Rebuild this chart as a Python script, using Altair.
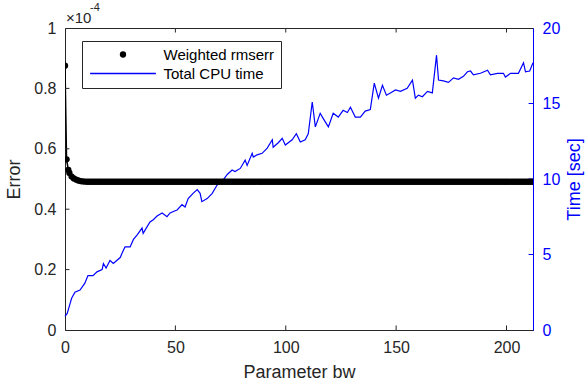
import altair as alt
import pandas as pd

# ---- data ----
series_names = ["Weighted rmserr", "Total CPU time"]

# error (in units of 1e-4)
err_x_start = [0, 0.7, 1.5, 2, 3, 4, 5, 6, 7, 8, 9]
err_y_start = [0.875, 0.565, 0.53, 0.52, 0.508, 0.502, 0.498, 0.495, 0.493, 0.492, 0.4915]
err_x_flat = list(range(10, 213))
err_y_flat = [0.491] * len(err_x_flat)

# total CPU time [sec]
time_x = [0, 1, 2, 3, 4.5, 6.8, 9, 10.4, 12.7, 14.5, 16.8, 17.4, 18.6, 20.4, 21.9, 25,
          26.5, 27.2, 29.5, 31, 32.7, 34.9, 35.4, 38.5, 40, 41.7, 44, 46.2, 47.6, 49.9,
          50.8, 53, 54.4, 55.8, 58, 59.9, 61.2, 62, 64.4, 66.7, 68.9, 71.7, 73.5, 75.7,
          77, 79.4, 81.6, 82.5, 84.8, 85.3, 87, 89.3, 91.6, 93.9, 94.3, 96.6, 98.4, 99.8,
          102.9, 104.8, 106.6, 108.8, 110.2, 112, 113.4, 115.6, 117, 119.3, 121.5, 123.8,
          126, 127.9, 129.3, 131.5, 133.8, 136, 138.3, 140.1, 142, 143.8, 145.6, 147.4,
          149.7, 152, 155, 157.4, 158.7, 160.1, 161.9, 164.2, 166.4, 168.3, 169.2, 171.4,
          173.7, 176, 178.2, 180.5, 182.3, 183.7, 185, 188.2, 191.4, 192.7, 195.9, 198.6,
          199.5, 201.8, 204, 205.4, 207.7, 208.6, 210.5, 212]
time_y = [0.9, 1.1, 1.6, 2.1, 2.5, 2.65, 3.1, 3.6, 3.6, 3.85, 4.0, 4.4, 4.1, 4.6, 4.4, 4.8,
          5.3, 5.5, 5.5, 6.0, 6.3, 6.75, 6.4, 7.15, 7.3, 7.55, 7.75, 7.5, 7.75, 7.9,
          7.95, 8.3, 8.15, 8.7, 9.05, 9.3, 9.05, 8.5, 8.7, 9.05, 9.6, 9.95, 10.3, 10.6,
          10.5, 10.7, 11.25, 10.9, 11.7, 11.45, 11.6, 11.7, 12.05, 12.6, 12.1, 12.4, 12.7, 12.25,
          12.6, 13.0, 12.45, 12.6, 13.0, 15.1, 13.45, 14.35, 14.0, 13.45, 14.35, 14.1,
          14.55, 14.4, 14.75, 14.1, 14.1, 14.5, 14.6, 16.35, 15.35, 16.2, 15.55, 15.7,
          15.9, 15.8, 16.0, 16.55, 15.35, 15.55, 15.45, 15.8, 15.7, 18.2, 16.55, 16.5,
          16.4, 16.7, 16.6, 16.8, 17.1, 17.15, 16.9, 17.0, 17.2, 16.9, 17.0, 17.0,
          16.75, 17.0, 17.0, 17.0, 17.7, 17.1, 17.15, 17.7]

x_ticks = [0, 50, 100, 150, 200]
err_ticks = [0, 0.2, 0.4, 0.6, 0.8, 1]
time_ticks = [0, 5, 10, 15, 20]

# ---- tables ----
err_df = pd.DataFrame({"bw": err_x_start + err_x_flat,
                       "err": err_y_start + err_y_flat,
                       "series": series_names[0]})
time_df = pd.DataFrame({"bw": time_x, "time": time_y})
xt_df = pd.DataFrame({"bw": x_ticks[1:], "lo": 0.0, "hi": 0.015, "top": 1.0, "top2": 0.985})
yt_df = pd.DataFrame({"err": err_ticks[1:-1], "x0": 0.0, "x1": 2.0})
tt_df = pd.DataFrame({"time": time_ticks[1:-1], "x0": 212.0, "x1": 210.0})
exp_df = pd.DataFrame({"bw": [0], "err": [1]})

FONT = "Liberation Sans"
DARK = "#262626"
BLUE = "#0000ff"
XMAX = 212

xscale = alt.Scale(domain=[0, XMAX], nice=False, zero=False)
escale = alt.Scale(domain=[0, 1], nice=False, zero=False)
tscale = alt.Scale(domain=[0, 20], nice=False, zero=False)

xaxis = alt.Axis(values=x_ticks, ticks=False, labelPadding=9, title="Parameter bw",
                 titlePadding=8, domainColor=DARK, labelColor=DARK, titleColor=DARK,
                 labelFontSize=16, titleFontSize=18, labelFont=FONT, titleFont=FONT,
                 titleFontWeight="normal", grid=False, labelFlush=False)
eaxis = alt.Axis(values=err_ticks, ticks=False, labelPadding=9, title="Error", orient="left",
                 format="~g", titlePadding=10, domainColor=DARK, labelColor=DARK,
                 titleColor=DARK, labelFontSize=16, titleFontSize=18, labelFont=FONT,
                 titleFont=FONT, titleFontWeight="normal", grid=False, labelFlush=False)
taxis = alt.Axis(values=time_ticks, ticks=False, labelPadding=9, title="Time [sec]",
                 orient="right", titleAngle=270, titlePadding=24, domainColor=BLUE,
                 labelColor=BLUE, titleColor=BLUE, labelFontSize=16, titleFontSize=18,
                 labelFont=FONT, titleFont=FONT, titleFontWeight="normal", grid=False,
                 labelFlush=False)

legend = alt.Legend(orient="none", legendX=17, legendY=13, title=None, padding=6,
                    rowPadding=3, strokeColor=DARK, fillColor="white", cornerRadius=0,
                    symbolOffset=27.5, labelOffset=33, labelFontSize=15, labelFont=FONT,
                    labelColor="black", symbolSize=40, symbolOpacity=1, labelLimit=300)

line_path = "M-10.4,-0.2H10.4V0.2H-10.4Z"

X = alt.X("bw:Q", scale=xscale, axis=xaxis)
YE = alt.Y("err:Q", scale=escale, axis=eaxis)
YT = alt.Y("time:Q", scale=tscale, axis=taxis)

err_line = alt.Chart(err_df).mark_line(color="black", strokeWidth=1.5, clip=True).encode(
    x=X, y=YE)
err_pts = alt.Chart(err_df).mark_point(filled=True, size=40, opacity=1, clip=True).encode(
    x=X, y=YE,
    color=alt.Color("series:N", scale=alt.Scale(domain=series_names, range=["black", BLUE]),
                    legend=legend),
    shape=alt.Shape("series:N", scale=alt.Scale(domain=series_names,
                                                range=["circle", line_path]),
                    legend=legend),
)
xt_bot = alt.Chart(xt_df).mark_rule(color=DARK, strokeWidth=1).encode(
    x=X, y=alt.Y("lo:Q", scale=escale, axis=eaxis), y2="hi:Q")
xt_top = alt.Chart(xt_df).mark_rule(color=DARK, strokeWidth=1).encode(
    x=X, y=alt.Y("top:Q", scale=escale, axis=eaxis), y2="top2:Q")
yt_left = alt.Chart(yt_df).mark_rule(color=DARK, strokeWidth=1).encode(
    y=YE, x=alt.X("x0:Q", scale=xscale, axis=xaxis), x2="x1:Q")
exp_base = alt.Chart(exp_df).mark_text(text="×10", align="left", baseline="middle",
                                       dx=1, dy=-10, fontSize=15, font=FONT,
                                       color=DARK).encode(x=X, y=YE)
exp_sup = alt.Chart(exp_df).mark_text(text="-4", align="left", baseline="middle",
                                      dx=25, dy=-20, fontSize=11, font=FONT,
                                      color=DARK).encode(x=X, y=YE)

left = alt.layer(err_line, err_pts, xt_bot, xt_top, yt_left, exp_base, exp_sup)

time_line = alt.Chart(time_df).mark_line(color=BLUE, strokeWidth=1.2).encode(x=X, y=YT)
tt_right = alt.Chart(tt_df).mark_rule(color=BLUE, strokeWidth=1).encode(
    y=YT, x=alt.X("x0:Q", scale=xscale, axis=xaxis), x2="x1:Q")
right = alt.layer(time_line, tt_right)

chart = alt.layer(right, left).resolve_scale(y="independent").properties(
    width=468, height=302,
    autosize=alt.AutoSizeParams(type="none"),
    padding={"left": 65, "top": 28, "right": 53, "bottom": 56},
    background="white",
).configure_view(stroke=DARK, strokeWidth=1)

chart.save("out.html", embed_options={"renderer": "svg", "actions": False})
